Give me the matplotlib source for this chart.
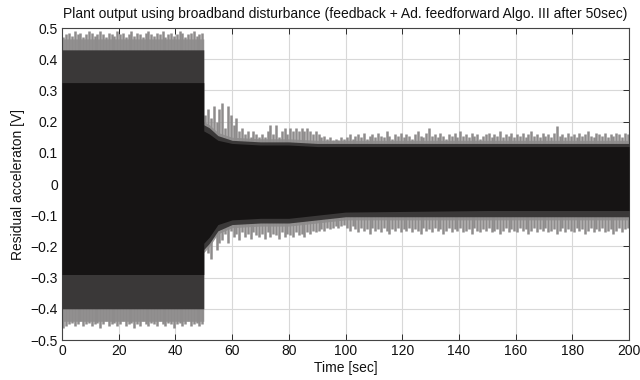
import matplotlib
matplotlib.use("Agg")
import matplotlib.pyplot as plt
from matplotlib import font_manager
import numpy as np

# ---- data ----
# peak envelope (light gray spikes), one value per second (t = 0.5 ... 199.5)
peak_upper = [
    0.47, 0.48, 0.485, 0.475, 0.49, 0.48, 0.485, 0.47, 0.48, 0.49,
    0.485, 0.475, 0.48, 0.49, 0.48, 0.47, 0.485, 0.48, 0.475, 0.49,
    0.48, 0.485, 0.47, 0.48, 0.49, 0.475, 0.485, 0.48, 0.47, 0.485,
    0.49, 0.48, 0.475, 0.485, 0.48, 0.49, 0.47, 0.48, 0.485, 0.475,
    0.48, 0.49, 0.485, 0.47, 0.48, 0.485, 0.49, 0.475, 0.48, 0.485,
    0.22, 0.24, 0.21, 0.25, 0.20, 0.24, 0.26, 0.18, 0.25, 0.22,
    0.19, 0.21, 0.17, 0.18, 0.16, 0.17, 0.15, 0.17, 0.16, 0.15,
    0.16, 0.15, 0.17, 0.19, 0.16, 0.19, 0.15, 0.17, 0.18, 0.16,
    0.18, 0.17, 0.18, 0.17, 0.18, 0.17, 0.18, 0.17, 0.16, 0.17,
    0.16, 0.15, 0.155, 0.145, 0.15, 0.14, 0.145, 0.14, 0.15, 0.145,
    0.15, 0.16, 0.145, 0.155, 0.16, 0.15, 0.165, 0.145, 0.155, 0.16,
    0.15, 0.165, 0.155, 0.15, 0.17, 0.155, 0.145, 0.16, 0.155, 0.165,
    0.15, 0.16, 0.155, 0.145, 0.16, 0.17, 0.155, 0.15, 0.165, 0.18,
    0.155, 0.16, 0.15, 0.165, 0.155, 0.145, 0.16, 0.155, 0.165, 0.15,
    0.17, 0.155, 0.16, 0.15, 0.165, 0.155, 0.16, 0.145, 0.155, 0.16,
    0.165, 0.15, 0.16, 0.155, 0.17, 0.15, 0.16, 0.155, 0.165, 0.15,
    0.16, 0.155, 0.165, 0.15, 0.16, 0.17, 0.155, 0.16, 0.15, 0.165,
    0.155, 0.16, 0.15, 0.165, 0.185, 0.155, 0.16, 0.15, 0.165, 0.155,
    0.16, 0.15, 0.165, 0.155, 0.16, 0.17, 0.155, 0.15, 0.165, 0.16,
    0.155, 0.165, 0.15, 0.16, 0.155, 0.165, 0.16, 0.15, 0.165, 0.16,
]
peak_lower = [
    -0.46, -0.455, -0.45, -0.445, -0.455, -0.45, -0.44, -0.455, -0.45, -0.445,
    -0.455, -0.45, -0.445, -0.46, -0.45, -0.44, -0.455, -0.45, -0.445, -0.455,
    -0.45, -0.44, -0.455, -0.45, -0.445, -0.46, -0.45, -0.455, -0.44, -0.45,
    -0.455, -0.445, -0.45, -0.455, -0.44, -0.45, -0.455, -0.445, -0.45, -0.46,
    -0.45, -0.445, -0.455, -0.45, -0.44, -0.455, -0.45, -0.445, -0.455, -0.45,
    -0.20, -0.22, -0.24, -0.17, -0.21, -0.19, -0.18, -0.16, -0.19, -0.15,
    -0.17, -0.16, -0.18, -0.155, -0.17, -0.16, -0.175, -0.155, -0.165, -0.17,
    -0.16, -0.175, -0.155, -0.17, -0.16, -0.165, -0.175, -0.155, -0.17, -0.16,
    -0.165, -0.17, -0.155, -0.165, -0.16, -0.17, -0.155, -0.16, -0.15, -0.155,
    -0.15, -0.145, -0.15, -0.14, -0.145, -0.14, -0.135, -0.14, -0.135, -0.13,
    -0.14, -0.15, -0.135, -0.145, -0.155, -0.14, -0.15, -0.145, -0.16, -0.14,
    -0.15, -0.145, -0.155, -0.14, -0.15, -0.16, -0.145, -0.15, -0.14, -0.155,
    -0.145, -0.15, -0.14, -0.155, -0.145, -0.15, -0.16, -0.14, -0.15, -0.145,
    -0.155, -0.14, -0.15, -0.145, -0.16, -0.15, -0.14, -0.155, -0.145, -0.15,
    -0.14, -0.155, -0.15, -0.145, -0.16, -0.14, -0.15, -0.155, -0.145, -0.15,
    -0.14, -0.155, -0.15, -0.145, -0.16, -0.15, -0.14, -0.155, -0.145, -0.15,
    -0.155, -0.14, -0.15, -0.145, -0.16, -0.15, -0.14, -0.155, -0.145, -0.15,
    -0.14, -0.155, -0.15, -0.145, -0.16, -0.15, -0.14, -0.155, -0.145, -0.15,
    -0.155, -0.14, -0.15, -0.145, -0.16, -0.15, -0.14, -0.155, -0.145, -0.15,
    -0.14, -0.155, -0.15, -0.145, -0.16, -0.15, -0.14, -0.155, -0.145, -0.14,
]
peak_time = [i + 0.5 for i in range(200)]

# coarse envelopes: light-gray base, dark-gray band and solid black core
knot_time = [0, 50, 50, 52, 55, 60, 70, 80, 90, 100, 150, 200]
base_upper = [0.465, 0.465, 0.20, 0.19, 0.165, 0.15, 0.145, 0.145, 0.14, 0.14, 0.14, 0.14]
base_lower = [-0.44, -0.44, -0.22, -0.20, -0.16, -0.14, -0.135, -0.135, -0.125, -0.115, -0.115, -0.115]
mid_upper = [0.43, 0.43, 0.19, 0.18, 0.155, 0.14, 0.135, 0.135, 0.13, 0.13, 0.13, 0.13]
mid_lower = [-0.40, -0.40, -0.21, -0.19, -0.15, -0.13, -0.125, -0.125, -0.115, -0.105, -0.105, -0.105]
core_upper = [0.325, 0.325, 0.17, 0.16, 0.14, 0.13, 0.125, 0.125, 0.12, 0.12, 0.12, 0.12]
core_lower = [-0.29, -0.29, -0.19, -0.17, -0.13, -0.115, -0.11, -0.11, -0.10, -0.09, -0.085, -0.085]

x_ticks = [0, 20, 40, 60, 80, 100, 120, 140, 160, 180, 200]
y_ticks = [-0.5, -0.4, -0.3, -0.2, -0.1, 0, 0.1, 0.2, 0.3, 0.4, 0.5]
y_tick_labels = ["\u22120.5", "\u22120.4", "\u22120.3", "\u22120.2", "\u22120.1", "0",
                 "0.1", "0.2", "0.3", "0.4", "0.5"]

title = "Plant output using broadband disturbance (feedback + Ad. feedforward Algo. III after 50sec)"
xlabel = "Time [sec]"
ylabel = "Residual acceleraton [V]"

# ---- fonts ----
names = {f.name for f in font_manager.fontManager.ttflist}
fams = [f for f in ["Liberation Sans", "DejaVu Sans"] if f in names]
plt.rcParams["font.family"] = fams
fs = 10

fig = plt.figure(figsize=(6.4, 3.8), dpi=100)
ax = fig.add_axes([62 / 640, 1 - 340 / 380, (629 - 62) / 640, (340 - 28) / 380])

ax.fill_between(knot_time, base_lower, base_upper, color="#9c9a9a", linewidth=0, zorder=2)
ax.vlines(peak_time, peak_lower, peak_upper, colors="#8e8c8c", linewidth=1.8, zorder=2.5)
ax.fill_between(knot_time, mid_lower, mid_upper, color="#3a3838", linewidth=0, zorder=3)
ax.fill_between(knot_time, core_lower, core_upper, color="#161414", linewidth=0, zorder=4)

ax.set_xlim(0, 200)
ax.set_ylim(-0.5, 0.5)
ax.set_xticks(x_ticks)
ax.set_yticks(y_ticks)
ax.set_yticklabels(y_tick_labels)
ax.grid(True, color="#d8d8d8", linewidth=0.8, zorder=0)
ax.set_axisbelow(True)
ax.tick_params(direction="in", length=4, width=0.6, top=True, right=True,
               labelsize=fs, colors="#111111", pad=3)
for s in ax.spines.values():
    s.set_color("#444444")
    s.set_linewidth(0.8)

ax.set_title(title, fontsize=fs, pad=7, color="#111111")
ax.set_xlabel(xlabel, fontsize=fs, labelpad=2, color="#111111")
ax.set_ylabel(ylabel, fontsize=fs, labelpad=4, color="#111111")

fig.savefig("out.png", dpi=100)
